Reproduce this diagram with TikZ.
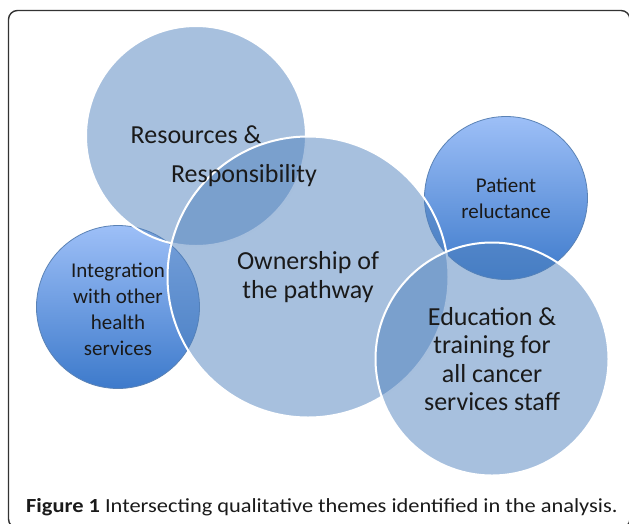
\documentclass[tikz,border=0pt]{standalone}
\usepackage{fontspec}
\setmainfont{Carlito}
\definecolor{gtop}{HTML}{9DBFF7}
\definecolor{gbot}{HTML}{3D7ACB}
\definecolor{gline}{HTML}{5A82B5}
\definecolor{office}{HTML}{4F81BD}
\definecolor{txt}{HTML}{1A1A1A}
\definecolor{frame}{HTML}{333333}
\tikzset{
  gradcirc/.style={circle, inner sep=0pt, minimum size=#1, top color=gtop, bottom color=gbot, draw=gline, line width=0.8pt},
  bigcirc/.style={circle, inner sep=0pt, minimum size=#1, fill=office, fill opacity=0.5, draw=white, draw opacity=1, line width=2pt},
  bigtext/.style={text=txt, font=\fontsize{26}{29}\selectfont, align=center, inner sep=0pt},
  smalltext/.style={text=txt, font=\fontsize{21}{26}\selectfont, align=center, inner sep=0pt}
}
\begin{document}
\begin{tikzpicture}[x=1pt,y=1pt]
\useasboundingbox (0,0) rectangle (629,-523);
\begin{scope}
\clip (0,0) rectangle (629,-523);
\draw[frame, line width=1.4pt, rounded corners=9pt] (8.5,-10.5) rectangle (630,-528);
\end{scope}
% gradient circles
\node[gradcirc=163pt] (integ) at (118,-307) {};
\node[gradcirc=163pt] (pat) at (506,-198) {};
% translucent circles
\node[bigcirc=220pt] (res) at (196,-136) {};
\node[bigcirc=281pt] (own) at (308,-277) {};
\node[bigcirc=233pt] (edu) at (492,-359) {};
% texts
\node[bigtext, anchor=base] (resA) at (196,-143) {Resources \&};
\node[bigtext, anchor=base] (resB) at (244,-182) {Responsibility};
\node[bigtext] (ownT) at (own.center) {Ownership of\\the pathway};
\node[smalltext] (integT) at ([yshift=-2pt]integ.center) {Integration\\with other\\health\\services};
\node[smalltext] (patT) at (pat.center) {Patient\\reluctance};
\node[bigtext, font=\fontsize{26}{28.5}\selectfont] (eduT) at (edu.center) {Education \&\\training for\\all cancer\\services staff};
\node[text=txt, anchor=base west, inner sep=0pt, font=\fontsize{20}{22}\selectfont] (cap) at (26,-512) {\scalebox{1.12}[1]{\textbf{Figure 1} Intersecting qualitative themes identified in the analysis.}};
\end{tikzpicture}
\end{document}
